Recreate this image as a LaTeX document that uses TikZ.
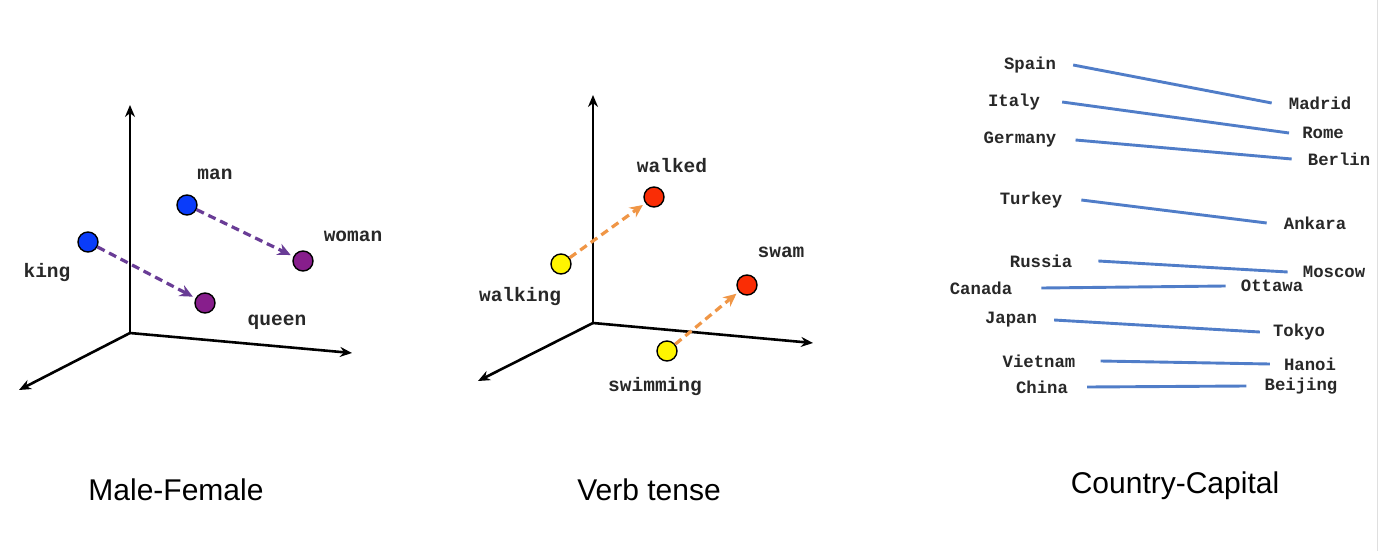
\documentclass[tikz,border=0pt]{standalone}
\usepackage{fontspec}
\setmainfont{Liberation Sans}
\setmonofont{Liberation Mono}
\usepackage{tikz}
\usetikzlibrary{arrows.meta}
\definecolor{dotblue}{RGB}{10,60,250}
\definecolor{dotpurple}{RGB}{135,30,140}
\definecolor{shiftpurple}{RGB}{105,60,150}
\definecolor{dotyellow}{RGB}{255,245,0}
\definecolor{dotred}{RGB}{250,45,5}
\definecolor{shiftorange}{RGB}{240,150,70}
\definecolor{capblue}{RGB}{80,125,200}
\definecolor{labelgray}{RGB}{40,40,40}

\tikzset{
  axis/.style={line width=2.6pt,-{Stealth[length=12pt,width=10pt]}},
  worddot/.style={circle,draw=black,line width=1.4pt,minimum size=20pt,inner sep=0pt},
  wordlabel/.style={labelgray,font=\fontsize{19.5}{20}\selectfont\ttfamily\bfseries,inner sep=0pt},
  citylabel/.style={labelgray,font=\fontsize{17.3}{18}\selectfont\ttfamily\bfseries,inner sep=0pt},
  wordshift/.style={dashed,dash pattern=on 8pt off 5pt,line width=3.2pt,
    -{Stealth[length=13pt,width=12pt]},shorten >=3pt},
  capline/.style={capblue,line width=2.9pt},
  paneltitle/.style={font=\fontsize{30}{32}\selectfont,inner sep=0pt}
}

\begin{document}
\begin{tikzpicture}[x=1pt,y=-1pt]
\useasboundingbox[fill=white] (0,0) rectangle (1383,551);
\draw[gray!25,line width=1pt] (1377,0) -- (1377,551);
% male-female
\begin{scope}[shift={(130,333)}]
\coordinate (o1) at (0,0);
\draw[axis] (o1) -- (0,-228);
\draw[axis] (o1) -- (222,20);
\draw[axis] (o1) -- (-111,57);
\node[worddot,fill=dotblue] (king) at (-42,-91) {};
\node[worddot,fill=dotblue] (man) at (57,-128) {};
\node[worddot,fill=dotpurple] (queen) at (75,-30) {};
\node[worddot,fill=dotpurple] (woman) at (173,-72) {};
\node[wordlabel] (kinglbl) at (-83,-61) {king};
\node[wordlabel] (manlbl) at (85,-159) {man};
\node[wordlabel] (queenlbl) at (147,-11) {queen};
\node[wordlabel] (womanlbl) at (223,-97) {woman};
\draw[wordshift,shiftpurple] (king) -- (queen);
\draw[wordshift,shiftpurple] (man) -- (woman);
\end{scope}
% verb tense
\begin{scope}[shift={(593,323)}]
\coordinate (o2) at (0,0);
\draw[axis] (o2) -- (0,-228);
\draw[axis] (o2) -- (220,20);
\draw[axis] (o2) -- (-115,58);
\node[worddot,fill=dotyellow] (walking) at (-32,-59) {};
\node[worddot,fill=dotred] (walked) at (61,-126) {};
\node[worddot,fill=dotyellow] (swimming) at (74,28) {};
\node[worddot,fill=dotred] (swam) at (154,-38) {};
\node[wordlabel] (walkinglbl) at (-73,-27) {walking};
\node[wordlabel] (walkedlbl) at (79,-157) {walked};
\node[wordlabel] (swimminglbl) at (62,63) {swimming};
\node[wordlabel] (swamlbl) at (188,-71) {swam};
\draw[wordshift,shiftorange] (walking) -- (walked);
\draw[wordshift,shiftorange] (swimming) -- (swam);
\end{scope}
% country-capital
\node[citylabel] (spain) at (1030,65) {Spain};
\node[citylabel] (italy) at (1014,102) {Italy};
\node[citylabel] (germany) at (1020,140) {Germany};
\node[citylabel] (turkey) at (1031,200) {Turkey};
\node[citylabel] (russia) at (1041,261) {Russia};
\node[citylabel] (canada) at (981,288) {Canada};
\node[citylabel] (japan) at (1011,320) {Japan};
\node[citylabel] (vietnam) at (1039,361) {Vietnam};
\node[citylabel] (china) at (1042,387) {China};
\node[citylabel] (madrid) at (1320,103) {Madrid};
\node[citylabel] (rome) at (1323,133) {Rome};
\node[citylabel] (berlin) at (1339,159) {Berlin};
\node[citylabel] (ankara) at (1315,223) {Ankara};
\node[citylabel] (moscow) at (1334,272) {Moscow};
\node[citylabel] (ottawa) at (1272,286) {Ottawa};
\node[citylabel] (tokyo) at (1299,332) {Tokyo};
\node[citylabel] (hanoi) at (1310,364) {Hanoi};
\node[citylabel] (beijing) at (1301,386) {Beijing};
\draw[capline] ([xshift=17pt]spain.east) -- ([xshift=-17pt]madrid.west);
\draw[capline] ([xshift=22pt]italy.east) -- ([xshift=-13pt]rome.west);
\draw[capline] ([xshift=19pt]germany.east) -- ([xshift=-16pt]berlin.west);
\draw[capline] ([xshift=19pt]turkey.east) -- ([xshift=-17pt]ankara.west);
\draw[capline] ([xshift=26pt]russia.east) -- ([xshift=-15pt]moscow.west);
\draw[capline] ([xshift=29pt]canada.east) -- ([xshift=-15pt]ottawa.west);
\draw[capline] ([xshift=17pt]japan.east) -- ([xshift=-13pt]tokyo.west);
\draw[capline] ([xshift=25pt]vietnam.east) -- ([xshift=-14pt]hanoi.west);
\draw[capline] ([xshift=19pt]china.east) -- ([xshift=-18pt]beijing.west);
% titles
\node[paneltitle] (mftitle) at (176,490) {Male-Female};
\node[paneltitle] (vttitle) at (649,490) {Verb tense};
\node[paneltitle] (cctitle) at (1175,486) {Country-Capital};
\end{tikzpicture}
\end{document}
